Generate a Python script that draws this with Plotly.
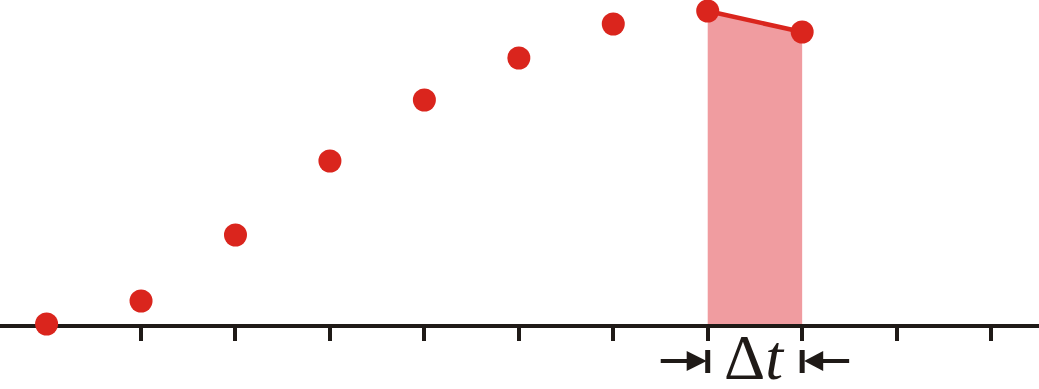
import plotly.graph_objects as go

# Data
x_vals = [0, 1, 2, 3, 4, 5, 6, 7, 8]
y_vals = [0, 23, 89, 163, 224, 266, 300, 313, 292]
tick_vals = [1, 2, 3, 4, 5, 6, 7, 8, 9, 10]
interval = [7, 8]          # the Δt interval
label = "Δ<i>t</i>"

RED = "#DA251D"
PINK = "#F09CA0"
INK = "#1F1A17"

i0, i1 = x_vals.index(interval[0]), x_vals.index(interval[1])

fig = go.Figure()

# shaded area under the last segment
fig.add_trace(go.Scatter(
    x=[interval[0], interval[0], interval[1], interval[1]],
    y=[0, y_vals[i0], y_vals[i1], 0],
    fill="toself", fillcolor=PINK, mode="none", hoverinfo="skip",
    showlegend=False,
))
# red segment between last two points
fig.add_trace(go.Scatter(
    x=[x_vals[i0], x_vals[i1]], y=[y_vals[i0], y_vals[i1]],
    mode="lines", line=dict(color=RED, width=4.5), showlegend=False,
    cliponaxis=False,
))
# points
fig.add_trace(go.Scatter(
    x=x_vals, y=y_vals, mode="markers",
    marker=dict(size=23, color=RED, line=dict(width=0)),
    showlegend=False, cliponaxis=False,
))

# Δt bracket marks (pixel-sized shapes anchored at the interval ends)
for xa, sign in [(interval[0], -1), (interval[1], 1)]:
    fig.add_shape(type="line", xref="x", yref="paper", x0=xa, x1=xa,
                  ysizemode="pixel", yanchor=0, y0=-26, y1=-49,
                  line=dict(color=INK, width=5))
    fig.add_shape(type="line", xref="x", yref="paper",
                  xsizemode="pixel", xanchor=xa, x0=sign * 18, x1=sign * 47,
                  ysizemode="pixel", yanchor=0, y0=-37, y1=-37,
                  line=dict(color=INK, width=4))
    tip = 2 if sign > 0 else -1
    base = sign * 21
    fig.add_shape(type="path", xref="x", yref="paper",
                  xsizemode="pixel", xanchor=xa, ysizemode="pixel", yanchor=0,
                  path=f"M {tip} -37 L {base} -27 L {base} -47 Z",
                  fillcolor=INK, line=dict(width=0))

fig.add_annotation(
    x=(interval[0] + interval[1]) / 2, y=0, xref="x", yref="paper",
    text=label, showarrow=False, xanchor="center", yanchor="top",
    yshift=4,
    font=dict(family="Liberation Serif", size=64, color=INK),
)

step = 850 / 9
x0 = 46.6 / step
fig.update_xaxes(
    range=[-x0, (1039 - 46.6) / step],
    showline=True, linecolor=INK, linewidth=4, layer="below traces",
    ticks="outside", tickvals=tick_vals, ticklen=13, tickwidth=4,
    tickcolor=INK, showticklabels=False, showgrid=False, zeroline=False,
    fixedrange=True,
)
fig.update_yaxes(range=[0, 324], visible=False, showgrid=False,
                 zeroline=False, fixedrange=True)

fig.update_layout(
    width=1039, height=389,
    margin=dict(l=0, r=0, t=0, b=65, pad=0),
    paper_bgcolor="white", plot_bgcolor="white",
    showlegend=False,
)

fig.write_html("out.html", config={"displayModeBar": False})
